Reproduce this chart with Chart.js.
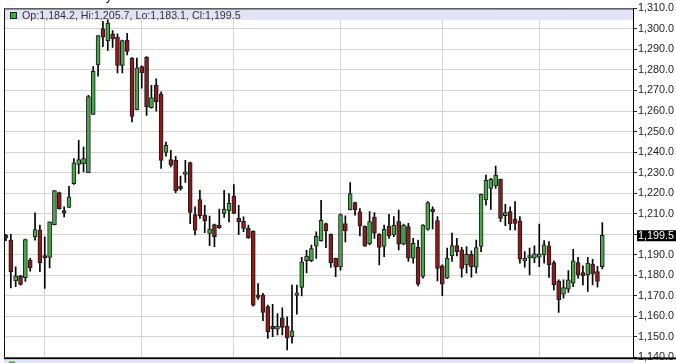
<!DOCTYPE html>
<html>
<head>
<meta charset="utf-8">
<style>
  html, body { margin: 0; padding: 0; background: #fff; }
  #wrap { position: relative; width: 676px; height: 363px; overflow: hidden; }
  canvas { display: block; }
</style>
<script src="https://cdn.jsdelivr.net/npm/chart.js@4/dist/chart.umd.min.js"></script>
</head>
<body>
<div id="wrap"><canvas id="c" width="676" height="363"></canvas></div>
<script>
// ---- Data (daily candles, oldest first) ----
const opens = [
  1198.6,1197.1,1177.3,1179.7,1178.8,1187.4,1198.7,1202.0,1188.8,1188.7,
  1204.7,1220.3,1210.7,1213.0,1224.6,1234.0,1234.4,1230.0,1258.3,1282.5,
  1300.0,1294.3,1297.6,1296.0,1282.2,1294.6,1285.8,1260.7,1281.7,1286.3,
  1261.6,1272.5,1268.4,1239.8,1236.4,1236.0,1222.5,1229.1,1234.9,1209.6,
  1216.9,1209.3,1200.4,1204.7,1204.4,1210.1,1211.4,1218.7,1207.7,1206.4,
  1203.0,1201.5,1170.0,1170.4,1164.7,1154.3,1153.8,1159.3,1155.3,1150.1,
  1170.2,1174.1,1187.1,1187.1,1194.2,1196.8,1205.2,1200.0,1188.2,1184.1,
  1205.2,1212.0,1215.4,1210.9,1203.9,1195.3,1208.2,1200.1,1194.0,1204.0,
  1199.6,1206.1,1195.1,1203.7,1188.3,1193.6,1179.4,1202.4,1212.3,1206.6,
  1184.6,1178.6,1189.4,1194.5,1192.4,1185.1,1190.2,1183.9,1194.0,1216.7,
  1222.3,1223.5,1226.7,1209.0,1211.0,1207.4,1206.5,1187.0,1188.4,1188.3,
  1188.8,1189.9,1194.3,1186.2,1177.0,1170.8,1173.2,1176.1,1186.2,1181.3,
  1180.2,1185.5,1181.8,1184.2
];
const highs = [
  1200.0,1200.0,1184.1,1180.0,1197.6,1188.2,1210.4,1204.4,1198.7,1206.0,
  1221.2,1220.5,1213.3,1223.3,1236.8,1245.7,1242.5,1267.6,1281.7,1296.8,
  1303.7,1304.4,1299.2,1297.6,1294.6,1297.9,1286.0,1285.8,1282.0,1286.5,
  1272.5,1275.7,1269.3,1244.9,1240.9,1238.0,1228.3,1236.0,1235.1,1213.3,
  1221.4,1214.1,1208.8,1204.9,1212.2,1221.4,1219.8,1224.2,1214.1,1208.5,
  1204.4,1201.7,1176.0,1171.2,1165.5,1165.8,1161.4,1164.2,1159.8,1175.2,
  1175.2,1188.7,1192.2,1194.7,1201.2,1216.5,1205.4,1200.2,1188.4,1209.9,
  1208.9,1225.1,1215.6,1212.5,1204.1,1211.0,1210.5,1200.3,1204.5,1209.7,
  1208.6,1211.8,1205.0,1205.3,1198.0,1197.2,1204.7,1215.9,1213.4,1208.6,
  1185.1,1193.2,1200.5,1198.0,1193.6,1194.0,1191.9,1197.2,1219.6,1228.8,
  1227.2,1233.2,1226.9,1214.6,1213.4,1215.9,1208.6,1191.5,1193.2,1194.3,
  1205.0,1196.9,1196.4,1187.0,1177.8,1177.8,1182.3,1192.7,1188.8,1184.6,
  1188.8,1187.8,1184.3,1205.7
];
const lows = [
  1196.8,1173.9,1174.4,1175.2,1177.0,1182.0,1197.1,1181.7,1173.6,1183.6,
  1204.5,1212.2,1208.4,1213.0,1224.3,1229.5,1230.3,1230.0,1258.3,1277.0,
  1291.4,1289.5,1291.0,1278.6,1278.6,1287.3,1254.7,1260.5,1271.2,1257.9,
  1261.4,1260.0,1232.0,1238.0,1232.8,1220.3,1221.4,1225.2,1205.2,1199.6,
  1207.7,1200.7,1194.4,1193.9,1202.8,1208.2,1206.0,1210.0,1199.9,1201.2,
  1197.9,1165.0,1168.3,1157.9,1149.3,1150.1,1150.9,1150.9,1143.6,1146.9,
  1161.1,1169.9,1181.2,1186.6,1188.2,1196.6,1193.5,1183.8,1179.3,1182.5,
  1196.3,1211.8,1209.3,1199.2,1194.0,1194.8,1198.0,1185.1,1189.1,1198.0,
  1198.8,1192.4,1194.8,1186.7,1185.9,1174.8,1178.6,1202.0,1202.6,1177.3,
  1170.1,1178.4,1186.7,1189.4,1179.1,1181.0,1179.1,1181.0,1191.5,1214.2,
  1212.1,1222.3,1206.1,1204.2,1202.1,1202.1,1185.9,1183.9,1180.2,1186.2,
  1184.2,1185.9,1178.9,1172.9,1161.9,1168.9,1171.6,1174.5,1178.6,1175.3,
  1172.1,1175.3,1174.2,1183.1
];
const closes = [
  1198.2,1181.7,1179.7,1175.5,1197.4,1183.6,1202.3,1186.2,1188.4,1206.0,
  1221.2,1212.5,1210.3,1218.2,1234.8,1236.3,1236.8,1267.1,1279.3,1296.8,
  1296.0,1302.8,1295.1,1282.2,1294.3,1289.0,1257.4,1281.1,1278.7,1262.0,
  1266.5,1264.4,1236.0,1243.3,1233.6,1221.1,1222.1,1229.5,1210.6,1202.0,
  1209.0,1206.5,1202.5,1198.8,1203.1,1212.2,1215.0,1210.1,1206.0,1202.8,
  1198.3,1165.5,1169.2,1161.9,1152.5,1153.9,1155.3,1154.6,1149.6,1152.9,
  1170.6,1186.6,1189.3,1193.0,1199.0,1206.8,1201.6,1186.2,1184.1,1209.6,
  1201.6,1219.8,1212.0,1204.1,1194.2,1206.1,1200.5,1193.6,1202.4,1199.2,
  1204.5,1195.1,1204.5,1188.3,1195.6,1175.7,1204.5,1215.4,1211.0,1183.4,
  1175.7,1188.3,1194.5,1191.5,1183.4,1190.2,1184.2,1193.5,1219.4,1226.4,
  1226.7,1228.8,1207.7,1210.5,1205.0,1205.3,1187.8,1188.3,1188.8,1190.4,
  1190.4,1194.8,1185.1,1175.3,1168.0,1174.0,1177.8,1187.0,1180.2,1179.7,
  1185.9,1180.7,1177.0,1199.5
];
// indices of candles where a new month starts (vertical grid lines)
const monthStarts = [8, 28, 47, 69, 90, 110];
// price axis ticks
const priceTicks = [1140,1150,1160,1170,1180,1190,1200,1210,1220,1230,1240,1250,1260,1270,1280,1290,1300,1310];
const headerText = 'Op:1,184.2, Hi:1,205.7, Lo:1,183.1, Cl:1,199.5';
const footerText = 'Vol:117,599     Open Int:274,193';
const titleText = 'Gold Daily';

// ---- styles ----
const UP = '#4aa64a', DOWN = '#8c1c1c', EDGE = '#1a1a1a';
const FONT = '"Liberation Sans", Arial, sans-serif';

function fmt(v) {
  const s = v.toFixed(1);
  const [i, d] = s.split('.');
  return i.replace(/\B(?=(\d{3})+(?!\d))/g, ',') + '.' + d;
}

const wickData = opens.map((o, i) => ({ x: i, y: [lows[i], highs[i]] }));
const bodyData = opens.map((o, i) => ({ x: i, y: [Math.min(o, closes[i]), Math.max(o, closes[i])] }));
const bodyColors = opens.map((o, i) => closes[i] >= o ? UP : DOWN);

const lastClose = closes[closes.length - 1];

const overlay = {
  id: 'overlay',
  beforeDatasetsDraw(chart) {
    const { ctx, chartArea: a } = chart;
    ctx.save();
    // header band
    ctx.fillStyle = '#e3e3f7';
    ctx.fillRect(a.left, a.top, a.right - a.left, 11.5);
    ctx.fillStyle = '#22c322';
    ctx.fillRect(10.5, 12.5, 6, 6);
    ctx.strokeStyle = '#222';
    ctx.lineWidth = 1;
    ctx.strokeRect(10.5, 12.5, 6, 6);
    ctx.fillStyle = '#333';
    ctx.font = '10.7px ' + FONT;
    ctx.textBaseline = 'alphabetic';
    ctx.textAlign = 'left';
    ctx.fillText(headerText, 22, 19);
    ctx.restore();
  },
  afterDraw(chart) {
    const { ctx, chartArea: a } = chart;
    const y = chart.scales.y;
    ctx.save();
    // frame
    ctx.strokeStyle = '#111';
    ctx.lineWidth = 1;
    ctx.beginPath();
    ctx.moveTo(a.left - 0.5, a.top + 0.5);
    ctx.lineTo(a.right + 0.5, a.top + 0.5);
    ctx.moveTo(a.left - 0.5, a.top);
    ctx.lineTo(a.left - 0.5, a.bottom);
    ctx.stroke();
    // bottom thick line + lower band
    ctx.fillStyle = '#000';
    ctx.fillRect(a.left - 1, a.bottom, chart.width, 2);
    ctx.fillStyle = '#e3e3f7';
    ctx.fillRect(a.left - 1, a.bottom + 2, a.right - a.left + 2, 10);
    ctx.fillStyle = '#22c322';
    ctx.fillRect(9, a.bottom + 4, 6, 6);
    ctx.fillStyle = '#333';
    ctx.font = '10.7px ' + FONT;
    ctx.textAlign = 'left';
    ctx.textBaseline = 'alphabetic';
    ctx.fillText(footerText, 24, a.bottom + 14);
    // clipped title at the very top
    ctx.fillStyle = '#000';
    ctx.font = '12px ' + FONT;
    ctx.textAlign = 'right';
    ctx.fillText(titleText, 112, 0);
    // last price box
    const py = y.getPixelForValue(lastClose);
    ctx.fillStyle = '#000';
    ctx.fillRect(637, py - 5, 39, 11);
    ctx.fillStyle = '#fff';
    ctx.font = '10.8px ' + FONT;
    ctx.textAlign = 'left';
    ctx.textBaseline = 'middle';
    ctx.fillText(fmt(lastClose), 638, py + 0.5);
    ctx.restore();
  }
};

Chart.defaults.font.family = FONT;

new Chart(document.getElementById('c'), {
  type: 'bar',
  data: {
    datasets: [
      {
        label: 'body',
        data: bodyData,
        backgroundColor: bodyColors,
        borderColor: EDGE,
        borderWidth: 1,
        borderSkipped: false,
        barThickness: 4,
        minBarLength: 2.5,
        grouped: false,
        order: 0
      },
      {
        label: 'wick',
        data: wickData,
        backgroundColor: '#000',
        borderWidth: 0,
        barThickness: 1,
        grouped: false,
        order: 1
      }
    ]
  },
  options: {
    responsive: false,
    animation: false,
    events: [],
    layout: { padding: { left: 5, top: 8.4, right: 0, bottom: 5.6 } },
    plugins: { legend: { display: false }, tooltip: { enabled: false } },
    scales: {
      x: {
        type: 'linear',
        min: -0.2,
        max: 129.33,
        offset: false,
        afterBuildTicks(scale) { scale.ticks = monthStarts.map(v => ({ value: v })); },
        ticks: { display: false },
        grid: { color: '#d4d4d4', drawTicks: false, offset: false },
        border: { display: false }
      },
      y: {
        position: 'right',
        min: priceTicks[0],
        max: priceTicks[priceTicks.length - 1],
        afterBuildTicks(scale) { scale.ticks = priceTicks.map(v => ({ value: v })); },
        afterFit(scale) { scale.width = 43; scale.paddingTop = 0; scale.paddingBottom = 0; },
        ticks: {
          padding: 1,
          color: '#222',
          font: { size: 10.8, family: FONT },
          callback: (v) => (v === 1200 ? '' : fmt(v))
        },
        grid: { color: '#d4d4d4', tickColor: '#222', tickLength: 4 },
        border: { display: true, color: '#000', width: 1 }
      }
    }
  },
  plugins: [overlay]
});
</script>
</body>
</html>
